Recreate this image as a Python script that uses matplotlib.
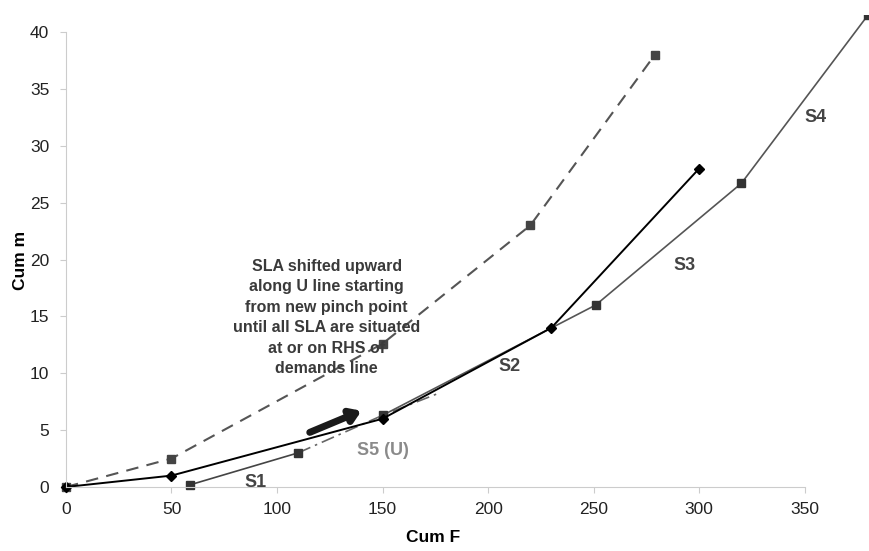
import matplotlib.pyplot as plt

plt.rcParams['font.family'] = ['Liberation Sans', 'DejaVu Sans']

# dashed upper curve
dash_x = [0, 50, 150, 220, 279]
dash_y = [0, 2.5, 12.6, 23, 38]

# black line with diamonds
diam_x = [0, 50, 150, 230, 300]
diam_y = [0, 1, 6, 14, 28]

# S1 segment
s1_x = [59, 110]
s1_y = [0.2, 3]

# S2 - S4 segments
s24_x = [150, 251, 320, 380]
s24_y = [6.3, 16, 26.7, 41.5]

# U line (S5), dash-dot
u_x = [110, 150, 176]
u_y = [3, 6.3, 8.2]

seg_labels = ['S1', 'S2', 'S3', 'S4']
seg_label_x = [90, 210, 293, 355]
seg_label_y = [0.35, 10.6, 19.5, 32.5]

note = ("SLA shifted upward\nalong U line starting\nfrom new pinch point\n"
        "until all SLA are situated\nat or on RHS of\ndemands line")

fig = plt.figure(figsize=(8.69, 5.51), dpi=100)
ax = fig.add_axes([0.0759, 0.1162, 0.923, 0.8566])

ax.plot(u_x, u_y, color='#666666', lw=1.2, linestyle=(0, (8, 3, 1.5, 3)))
ax.plot(dash_x, dash_y, color='#555555', lw=1.5, dashes=[6, 4],
        marker='s', markersize=6, markerfacecolor='#444444', markeredgecolor='#444444',
        clip_on=False)
ax.plot(s1_x, s1_y, color='#444444', lw=1.2, marker='s', markersize=6,
        markerfacecolor='#333333', markeredgecolor='#333333', clip_on=False)
ax.plot(s24_x, s24_y, color='#555555', lw=1.2, marker='s', markersize=6,
        markerfacecolor='#333333', markeredgecolor='#333333')
ax.plot(diam_x, diam_y, color='black', lw=1.4, marker='D', markersize=5,
        markerfacecolor='black', markeredgecolor='black', clip_on=False)

for lab, lx, ly in zip(seg_labels, seg_label_x, seg_label_y):
    ax.text(lx, ly, lab, fontsize=13, fontweight='bold', color='#444444',
            ha='center', va='center')
ax.text(150, 3.2, 'S5 (U)', fontsize=13, fontweight='bold', color='#8a8a8a',
        ha='center', va='center')

ax.text(123.5, 14.9, note, fontsize=11.5, fontweight='bold', color='#3a3a3a',
        ha='center', va='center', linespacing=1.45)

ax.annotate('', xy=(140, 6.7), xytext=(115.5, 4.8),
            arrowprops=dict(arrowstyle='-|>,head_length=0.6,head_width=0.4',
                            color='#1a1a1a', lw=5, shrinkA=0, shrinkB=0))

ax.set_xlim(0, 380)
ax.set_ylim(0, 41.5)
ax.set_xticks(range(0, 351, 50))
ax.set_yticks(range(0, 41, 5))
ax.spines['top'].set_visible(False)
ax.spines['right'].set_visible(False)
for side in ['left', 'bottom']:
    ax.spines[side].set_color('#cccccc')
ax.spines['bottom'].set_bounds(0, 350)
ax.spines['left'].set_bounds(0, 40)
ax.tick_params(colors='#cccccc', labelcolor='#222222', labelsize=12.5, length=4)
ax.tick_params(axis='x', pad=7)
ax.tick_params(axis='y', pad=8)

ax.set_xlabel('Cum F', fontsize=12.5, fontweight='bold', va='center')
ax.set_ylabel('Cum m', fontsize=12.5, fontweight='bold', va='center')
ax.xaxis.set_label_coords((433 - 66) / 802, -0.106)
ax.yaxis.set_label_coords(-0.057, (487 - 260) / 472)

plt.savefig('out.png', dpi=100)
